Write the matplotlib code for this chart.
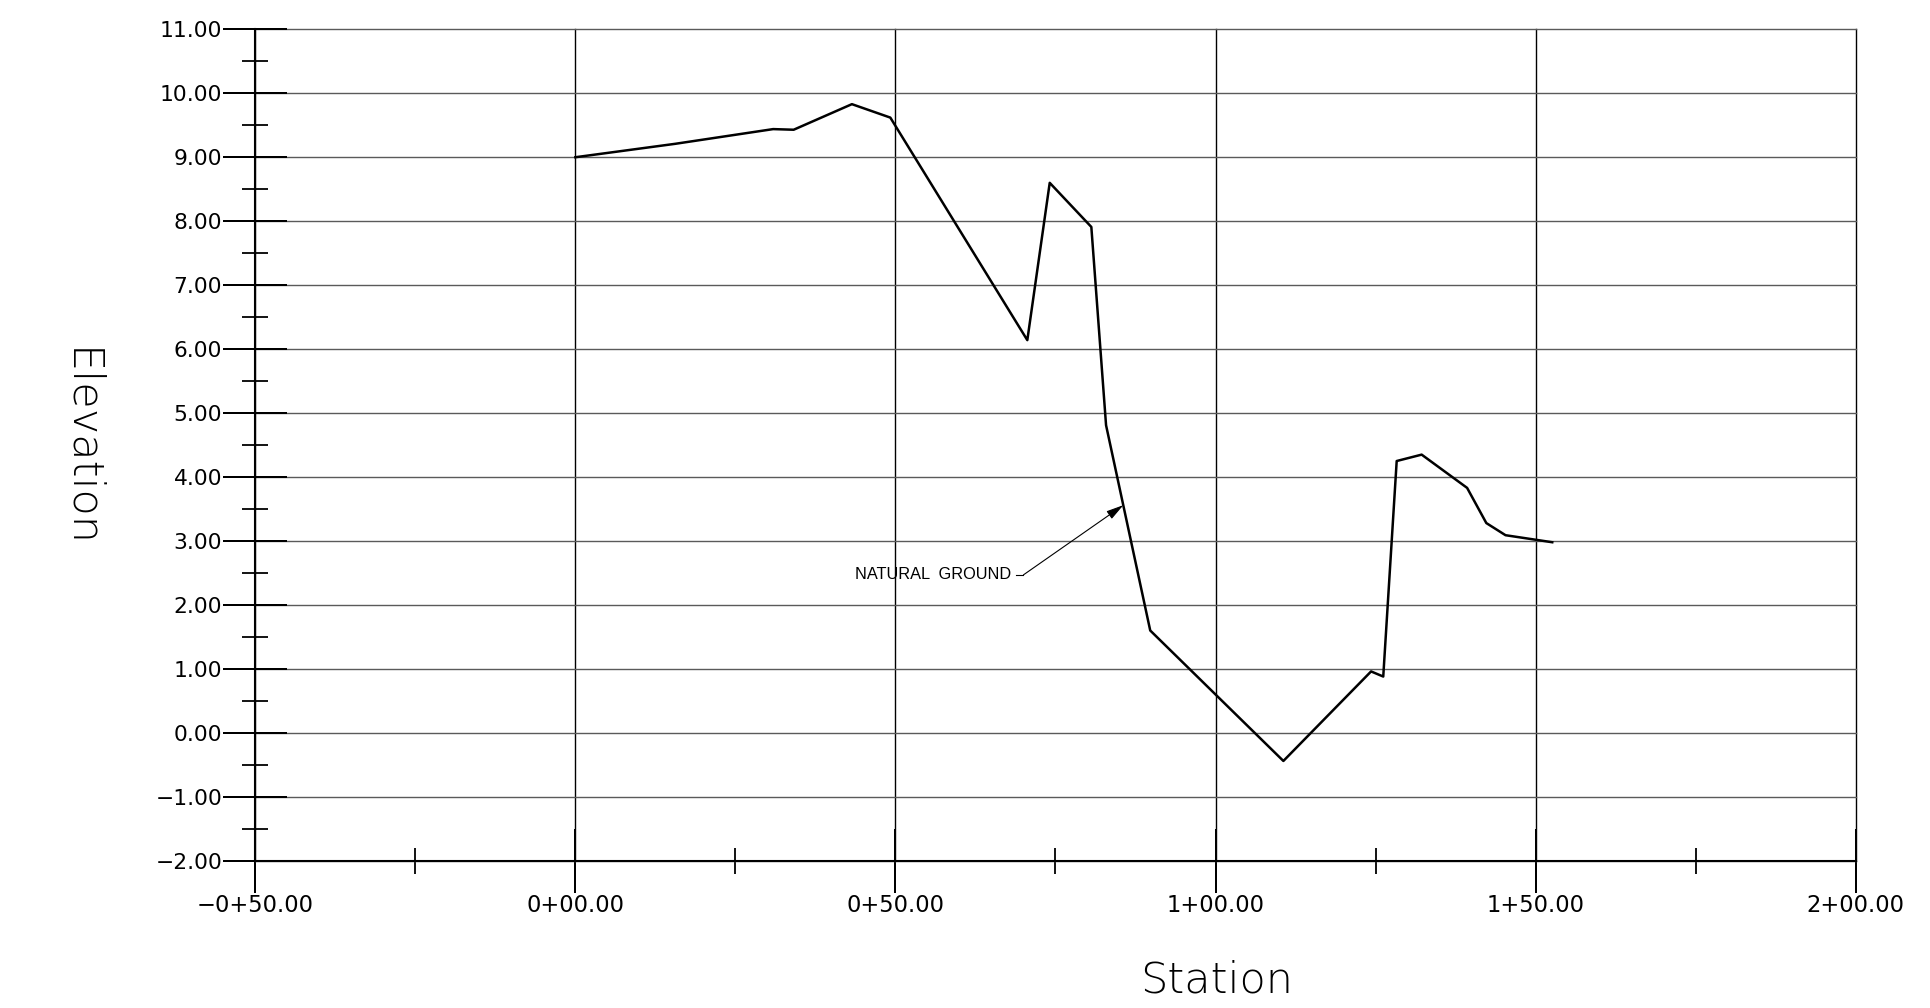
import matplotlib
matplotlib.use("Agg")
import matplotlib.pyplot as plt
from matplotlib.ticker import MultipleLocator

# natural ground profile
station = [0, 15.6, 30.9, 34.1, 43.2, 49.2, 70.6, 74.1, 80.6, 82.9, 89.8,
           110.6, 124.3, 126.2, 128.3, 132.2, 139.3, 142.3, 145.3, 152.6]
elevation = [9.00, 9.21, 9.44, 9.43, 9.83, 9.62, 6.14, 8.60, 7.91, 4.81, 1.60,
             -0.44, 0.96, 0.88, 4.25, 4.35, 3.83, 3.28, 3.09, 2.98]

x_ticks = [-50, 0, 50, 100, 150, 200]
y_ticks = list(range(-2, 12))


def sta_label(s):
    sign = "\u2212" if s < 0 else ""
    s = abs(s)
    return f"{sign}{int(s // 100)}+{s % 100:05.2f}"


def elev_label(v):
    return f"{v:.2f}".replace("-", "\u2212")


fig = plt.figure(figsize=(19.31, 10.08), dpi=100)
ax = fig.add_axes([0.1322, 0.1461, 0.8288, 0.8248])

ax.plot(station, elevation, color="black", lw=1.8, zorder=3)

ax.set_xlim(-50, 200)
ax.set_ylim(-2, 11)
ax.set_xticks(x_ticks, labels=[sta_label(s) for s in x_ticks])
ax.set_yticks(y_ticks, labels=[elev_label(v) for v in y_ticks])
ax.xaxis.set_minor_locator(MultipleLocator(25))
ax.yaxis.set_minor_locator(MultipleLocator(0.5))

ax.grid(axis="y", which="major", color="#5a5a5a", lw=1.0, zorder=1)
ax.grid(axis="x", which="major", color="black", lw=1.0, zorder=1)
for gl in ax.get_xgridlines() + ax.get_ygridlines():
    gl.set_clip_on(False)

for side in ["top", "right"]:
    ax.spines[side].set_visible(False)
for side in ["left", "bottom"]:
    ax.spines[side].set_linewidth(1.5)

ax.tick_params(which="major", direction="inout", length=45.6, width=1.44,
               pad=1, colors="black")
ax.tick_params(which="minor", direction="inout", length=19, width=1.3)
ax.tick_params(axis="y", labelsize=15.7)
ax.tick_params(axis="x", labelsize=16.3)
for lab in ax.get_xticklabels() + ax.get_yticklabels():
    lab.set_family("DejaVu Sans")

# leader note
ax.text(43.7, 2.47, "NATURAL  GROUND", fontsize=11.8, family="Liberation Sans",
        ha="left", va="center", zorder=4)
ax.plot([68.9, 70.0], [2.47, 2.47], color="black", lw=0.8)
ax.annotate("", xy=(85.6, 3.56), xytext=(70.0, 2.47),
            arrowprops=dict(arrowstyle="-|>,head_length=1.05,head_width=0.28",
                            mutation_scale=10, color="black", lw=0.8,
                            shrinkA=0, shrinkB=0))

ax.text(0.6004, -0.1588, "Station", transform=ax.transAxes, ha="center",
        va="baseline", fontsize=31, family="DejaVu Sans", fontweight="light")
ax.text(-0.1169, 0.4965, "Elevation", transform=ax.transAxes, ha="center",
        va="baseline", rotation=-90, rotation_mode="anchor", fontsize=31,
        family="DejaVu Sans", fontweight="light")

fig.savefig("out.png", dpi=100)
